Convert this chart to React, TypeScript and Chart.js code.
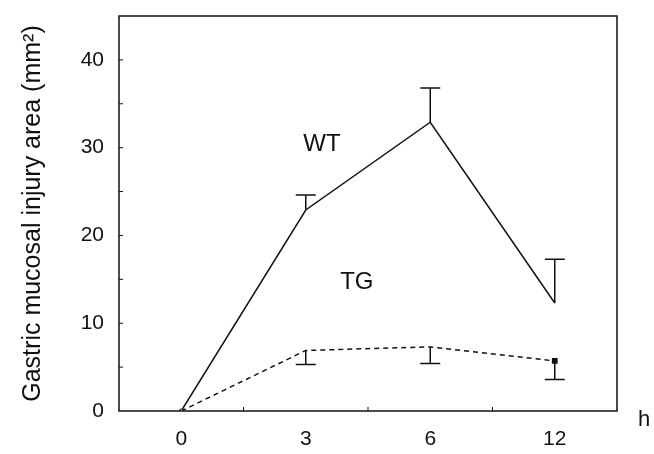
import React, { useEffect, useRef } from "react";
import { Chart, registerables } from "chart.js";

Chart.register(...registerables);

// ---- data ----
const xLabels = ["0", "3", "6", "12"];
const xPositions = [0, 1, 2, 3];
const wtValues = [0, 22.9, 32.9, 12.3];
const wtUpper = [null, 24.6, 36.8, 17.3];
const tgValues = [0, 6.9, 7.3, 5.7];
const tgLower = [null, 5.3, 5.4, 3.6];
const yTicks = [0, 10, 20, 30, 40];
const yMinorTicks = [5, 10, 15, 20, 25, 30, 35, 40];
const xMinorTicks = [0.5, 1.5, 2.5];
const seriesNames = ["WT", "TG"];
const seriesLabelAnchors = [
  [1.13, 30.4],
  [1.41, 14.6],
];
const yTitle = "Gastric mucosal injury area (mm\u00B2)";
const xUnit = "h";

const FONT = "'Liberation Sans', Arial, Helvetica, sans-serif";

const decorPlugin = {
  id: "decor",
  afterDatasetsDraw(chart: any) {
    const { ctx, chartArea, scales } = chart;
    const xs = scales.x;
    const ys = scales.y;
    ctx.save();
    ctx.strokeStyle = "#111";
    ctx.fillStyle = "#111";
    // error bars
    const cap = 10;
    ctx.lineWidth = 1.5;
    ctx.setLineDash([]);
    const drawErr = (vals: number[], ends: (number | null)[]) => {
      ends.forEach((e, i) => {
        if (e === null) return;
        const px = xs.getPixelForValue(xPositions[i]);
        const py0 = ys.getPixelForValue(vals[i]);
        const py1 = ys.getPixelForValue(e);
        ctx.beginPath();
        ctx.moveTo(px, py0);
        ctx.lineTo(px, py1);
        ctx.moveTo(px - cap, py1);
        ctx.lineTo(px + cap, py1);
        ctx.stroke();
      });
    };
    drawErr(wtValues, wtUpper);
    drawErr(tgValues, tgLower);
    // box
    ctx.lineWidth = 1.5;
    ctx.strokeRect(
      chartArea.left,
      chartArea.top,
      chartArea.right - chartArea.left,
      chartArea.bottom - chartArea.top
    );
    // minor ticks
    ctx.lineWidth = 1;
    ctx.beginPath();
    yMinorTicks.forEach((v) => {
      const py = ys.getPixelForValue(v);
      ctx.moveTo(chartArea.left, py);
      ctx.lineTo(chartArea.left + 4, py);
    });
    xMinorTicks.forEach((v) => {
      const px = xs.getPixelForValue(v);
      ctx.moveTo(px, chartArea.bottom);
      ctx.lineTo(px, chartArea.bottom - 4);
    });
    ctx.stroke();
    // series labels
    ctx.font = `24px ${FONT}`;
    ctx.textAlign = "center";
    ctx.textBaseline = "middle";
    seriesNames.forEach((n, i) => {
      const [vx, vy] = seriesLabelAnchors[i];
      ctx.fillText(n, xs.getPixelForValue(vx), ys.getPixelForValue(vy));
    });
    // unit
    ctx.font = `22px ${FONT}`;
    ctx.fillText(xUnit, chartArea.right + 27, chartArea.bottom + 9);
    ctx.restore();
  },
};

export default function App() {
  const ref = useRef<HTMLCanvasElement | null>(null);
  useEffect(() => {
    if (!ref.current) return;
    const chart = new Chart(ref.current, {
      type: "line",
      data: {
        datasets: [
          {
            label: seriesNames[0],
            data: xPositions.map((x, i) => ({ x, y: wtValues[i] })),
            borderColor: "#111",
            backgroundColor: "#fff",
            borderWidth: 1.5,
            pointRadius: [2, 0, 0, 0],
            pointBorderWidth: 1,
            pointBorderColor: "#111",
            tension: 0,
          },
          {
            label: seriesNames[1],
            data: xPositions.map((x, i) => ({ x, y: tgValues[i] })),
            borderColor: "#111",
            backgroundColor: "#111",
            borderWidth: 1.5,
            borderDash: [5, 4],
            pointStyle: "rect",
            pointRadius: [0, 0, 0, 3],
            pointBorderColor: "#111",
            tension: 0,
          },
        ],
      },
      options: {
        animation: false,
        responsive: false,
        devicePixelRatio: 1,
        layout: { padding: { top: 16, right: 37, left: 0, bottom: 0 } },
        plugins: {
          legend: { display: false },
          tooltip: { enabled: false },
        },
        scales: {
          x: {
            type: "linear",
            min: -0.5,
            max: 3.5,
            grid: { display: false, drawTicks: false },
            border: { display: false },
            afterBuildTicks: (s: any) => {
              s.ticks = xPositions.map((v) => ({ value: v }));
            },
            afterFit: (s: any) => {
              s.height = 43;
              s.paddingLeft = 0;
              s.paddingRight = 0;
            },
            ticks: {
              padding: 16,
              color: "#111",
              font: { family: FONT, size: 21 },
              callback: (v: any) => {
                const i = xPositions.indexOf(Number(v));
                return i >= 0 ? xLabels[i] : "";
              },
              maxRotation: 0,
            },
          },
          y: {
            type: "linear",
            min: 0,
            max: 45,
            grid: { display: false, drawTicks: false },
            border: { display: false },
            afterBuildTicks: (s: any) => {
              s.ticks = yTicks.map((v) => ({ value: v }));
            },
            afterFit: (s: any) => {
              s.width = 119;
              s.paddingTop = 0;
              s.paddingBottom = 0;
            },
            ticks: {
              padding: 15,
              color: "#111",
              font: { family: FONT, size: 21 },
            },
            title: {
              display: true,
              text: yTitle,
              color: "#111",
              font: { family: FONT, size: 25 },
              padding: { top: 18, bottom: 0 },
            },
          },
        },
      },
      plugins: [decorPlugin],
    });
    return () => chart.destroy();
  }, []);
  return (
    <div style={{ position: "absolute", left: 0, top: 0, width: 654, height: 454, background: "#fff" }}>
      <canvas ref={ref} width={654} height={454} style={{ display: "block" }} />
    </div>
  );
}
